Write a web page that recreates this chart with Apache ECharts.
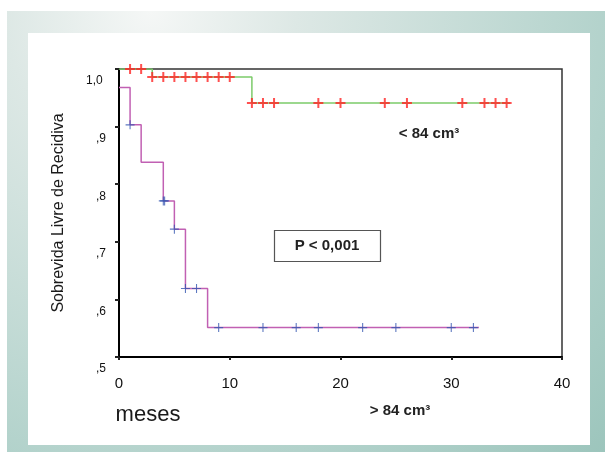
<!DOCTYPE html>
<html>
<head>
<meta charset="utf-8">
<script src="https://cdn.jsdelivr.net/npm/echarts@6/dist/echarts.min.js"></script>
<style>
	html, body { margin: 0; padding: 0; background: #fff; }
	#chart { width: 605px; height: 452px; }
</style>
</head>
<body>
<div id="chart"></div>
<script>
	'use strict'

	/*-----data-----*/
	// < 84 cm3 group (green step line, red censor marks)
	var smallTimes = [0, 3, 12, 35.3];
	var smallSurv = [1.0, 0.986, 0.941, 0.941];
	var smallCensored = [1, 2, 3, 4, 5, 6, 7, 8, 9, 10, 12, 13, 14, 18, 20, 24, 26, 31, 33, 34, 35];
	// > 84 cm3 group (purple step line, blue censor marks)
	var largeTimes = [0, 1, 2, 4, 5, 6, 8, 32.5];
	var largeSurv = [0.968, 0.903, 0.838, 0.771, 0.722, 0.619, 0.551, 0.551];
	var largeCensored = [1, 4, 4.12, 5, 6, 7, 9, 13, 16, 18, 22, 25, 30, 32];
	var yTicks = [0.5, 0.6, 0.7, 0.8, 0.9, 1.0];
	var xTicks = [0, 10, 20, 30, 40];

	var FONT = 'Liberation Sans, Arial, sans-serif';

	function stepData(times, surv) {
		return times.map(function (t, i) { return [t, surv[i]]; });
	}
	function survAt(times, surv, t) {
		var v = surv[0];
		for (var i = 0; i < times.length; i++) {
			if (times[i] <= t) v = surv[i];
		}
		return v;
	}
	function censorData(times, surv, cens) {
		return cens.map(function (t) { return [t, survAt(times, surv, t)]; });
	}

	var plusThick = 'path://M4,0H6V4H10V6H6V10H4V6H0V4H4Z';
	var plusThin = 'path://M4.4,0H5.6V4.4H10V5.6H5.6V10H4.4V5.6H0V4.4H4.4Z';

	var chart = echarts.init(document.getElementById('chart'));
	var option = {
		animation: false,
		textStyle: { fontFamily: FONT },
		grid: {
			left: 119,
			right: 43,
			top: 69,
			bottom: 95,
			show: true,
			borderColor: '#333',
			borderWidth: 1.5,
			backgroundColor: 'transparent'
		},
		graphic: [{
			type: 'rect', z: -10,
			shape: { x: 7, y: 11, width: 598, height: 441 },
			style: {
				fill: new echarts.graphic.RadialGradient(0.24, 0, 1.44, [
					{ offset: 0, color: '#f5f7f6' },
					{ offset: 0.23, color: '#dde8e5' },
					{ offset: 0.73, color: '#b2d2cb' },
					{ offset: 1, color: '#9cc5bc' }
				])
			}
		}, {
			type: 'rect', z: -9,
			shape: { x: 28, y: 33, width: 562, height: 412 },
			style: { fill: '#ffffff' }
		}, {
			type: 'text', x: 148, y: 415,
			style: { text: 'meses', fontSize: 22, fontFamily: FONT, fill: '#1a1a1a', textAlign: 'center', textVerticalAlign: 'middle' }
		}, {
			type: 'text', x: 400, y: 411,
			style: { text: '> 84 cm³', fontSize: 15, fontWeight: 'bold', fontFamily: FONT, fill: '#222', textAlign: 'center', textVerticalAlign: 'middle' }
		}, {
			type: 'text', x: 429, y: 134,
			style: { text: '< 84 cm³', fontSize: 15, fontWeight: 'bold', fontFamily: FONT, fill: '#222', textAlign: 'center', textVerticalAlign: 'middle' }
		}, {
			type: 'rect', z: 5,
			shape: { x: 274.5, y: 230.5, width: 106, height: 31 },
			style: { fill: '#fff', stroke: '#555', lineWidth: 1.2 }
		}, {
			type: 'text', x: 327, y: 246, z: 6,
			style: { text: 'P < 0,001', fontSize: 15, fontWeight: 'bold', fontFamily: FONT, fill: '#222', textAlign: 'center', textVerticalAlign: 'middle' }
		}],
		xAxis: {
			type: 'value',
			min: xTicks[0],
			max: xTicks[xTicks.length - 1],
			interval: 10,
			splitLine: { show: false },
			axisLine: { lineStyle: { color: '#000', width: 2 } },
			axisTick: { length: 3, lineStyle: { color: '#222', width: 2 } },
			axisLabel: { fontSize: 15, color: '#111', margin: 19 }
		},
		yAxis: {
			type: 'value',
			min: yTicks[0],
			max: yTicks[yTicks.length - 1],
			interval: 0.1,
			name: 'Sobrevida Livre de Recidiva',
			nameLocation: 'middle',
			nameGap: 52,
			nameTextStyle: { fontSize: 16, color: '#1a1a1a', fontFamily: FONT },
			splitLine: { show: false },
			axisLine: { lineStyle: { color: '#000', width: 2 } },
			axisTick: { length: 4, lineStyle: { color: '#222', width: 2 } },
			axisLabel: {
				fontSize: 12,
				lineHeight: 24,
				color: '#111',
				margin: 13,
				formatter: function (v) {
					return '\n' + (v >= 0.999 ? '1,0 ' : ',' + Math.round(v * 10));
				}
			}
		},
		series: [{
			name: '< 84 cm³',
			type: 'line',
			step: 'end',
			symbol: 'none',
			z: 3,
			lineStyle: { color: '#7ccb6a', width: 1.5 },
			data: stepData(smallTimes, smallSurv)
		}, {
			name: '> 84 cm³',
			type: 'line',
			step: 'end',
			symbol: 'none',
			z: 3,
			lineStyle: { color: '#c160b3', width: 1.5 },
			data: stepData(largeTimes, largeSurv)
		}, {
			type: 'scatter',
			symbol: plusThick,
			symbolSize: 10,
			z: 4,
			itemStyle: { color: '#ff2424' },
			data: censorData(smallTimes, smallSurv, smallCensored)
		}, {
			type: 'scatter',
			symbol: plusThin,
			symbolSize: 9,
			z: 4,
			itemStyle: { color: '#3556b0' },
			data: censorData(largeTimes, largeSurv, largeCensored)
		}]
	};
	chart.setOption(option);
</script>
</body>
</html>
